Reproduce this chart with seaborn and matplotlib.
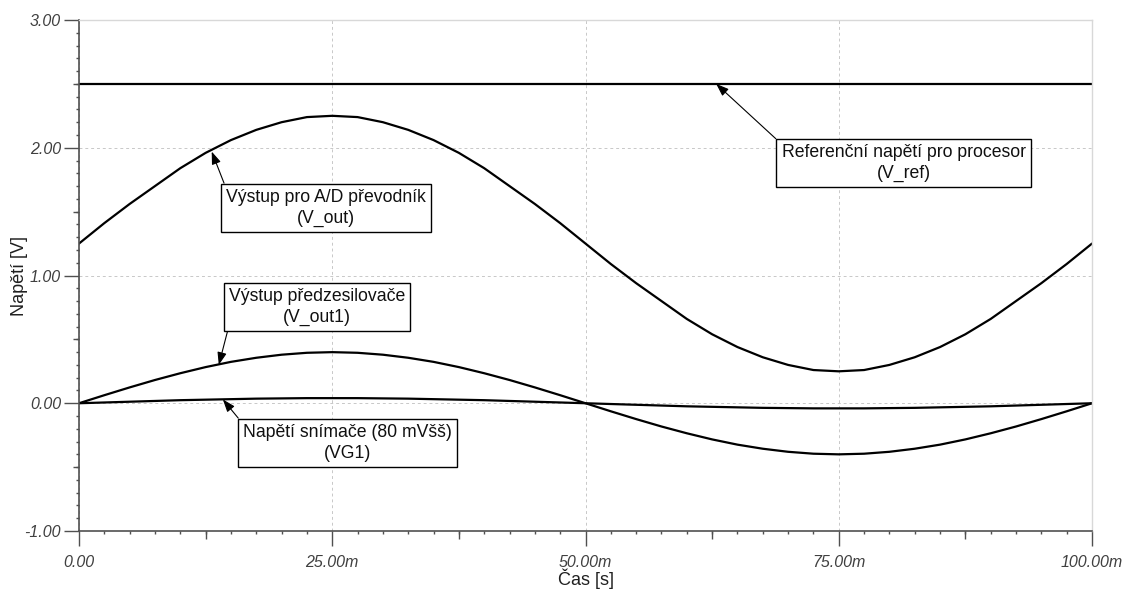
import numpy as np
import pandas as pd
import matplotlib
matplotlib.use('Agg')
import matplotlib.pyplot as plt
import seaborn as sns
from matplotlib.ticker import MultipleLocator, FuncFormatter

cas_ms = [0.0, 2.5, 5.0, 7.5, 10.0, 12.5, 15.0, 17.5, 20.0, 22.5,
          25.0, 27.5, 30.0, 32.5, 35.0, 37.5, 40.0, 42.5, 45.0, 47.5,
          50.0, 52.5, 55.0, 57.5, 60.0, 62.5, 65.0, 67.5, 70.0, 72.5,
          75.0, 77.5, 80.0, 82.5, 85.0, 87.5, 90.0, 92.5, 95.0, 97.5, 100.0]

v_ref = [2.50] * 41

v_out = [1.25, 1.41, 1.56, 1.70, 1.84, 1.96, 2.06, 2.14, 2.20, 2.24,
         2.25, 2.24, 2.20, 2.14, 2.06, 1.96, 1.84, 1.70, 1.56, 1.41,
         1.25, 1.09, 0.94, 0.80, 0.66, 0.54, 0.44, 0.36, 0.30, 0.26,
         0.25, 0.26, 0.30, 0.36, 0.44, 0.54, 0.66, 0.80, 0.94, 1.09, 1.25]

v_out1 = [0.00, 0.063, 0.124, 0.182, 0.235, 0.283, 0.324, 0.356, 0.380, 0.395,
          0.40, 0.395, 0.380, 0.356, 0.324, 0.283, 0.235, 0.182, 0.124, 0.063,
          0.00, -0.063, -0.124, -0.182, -0.235, -0.283, -0.324, -0.356, -0.380, -0.395,
          -0.40, -0.395, -0.380, -0.356, -0.324, -0.283, -0.235, -0.182, -0.124, -0.063, 0.00]

vg1 = [0.000, 0.006, 0.012, 0.018, 0.024, 0.028, 0.032, 0.036, 0.038, 0.040,
       0.040, 0.040, 0.038, 0.036, 0.032, 0.028, 0.024, 0.018, 0.012, 0.006,
       0.000, -0.006, -0.012, -0.018, -0.024, -0.028, -0.032, -0.036, -0.038, -0.040,
       -0.040, -0.040, -0.038, -0.036, -0.032, -0.028, -0.024, -0.018, -0.012, -0.006, 0.000]

# annotation texts, arrow tips (ms, V) and box centres (ms, V)
popisky = ['Referenční napětí pro procesor\n(V_ref)',
           'Výstup pro A/D převodník\n(V_out)',
           'Výstup předzesilovače\n(V_out1)',
           'Napětí snímače (80 mVšš)\n(VG1)']
hroty = [(62.9, 2.50), (13.1, 1.97), (13.8, 0.30), (14.2, 0.03)]
boxy = [(81.4, 1.88), (24.4, 1.53), (23.5, 0.755), (26.5, -0.31)]
kotvy = [(0, 1), (0, 1), (0, 0), (0, 1)]


def main():
    sns.set_style('white')
    plt.rcParams['font.family'] = ['Liberation Sans', 'DejaVu Sans']

    df = pd.DataFrame({'t': cas_ms, 'V_ref': v_ref, 'V_out': v_out,
                       'V_out1': v_out1, 'VG1': vg1})

    fig = plt.figure(figsize=(11.46, 5.97), dpi=100)
    ax = fig.add_axes([79 / 1146, 66 / 597, 1013 / 1146, 511 / 597])

    for col in ['V_ref', 'V_out', 'V_out1', 'VG1']:
        sns.lineplot(data=df, x='t', y=col, ax=ax, color='black', linewidth=1.6)

    ax.set_xlim(0, 100)
    ax.set_ylim(-1, 3)

    # grid only at major ticks
    ax.xaxis.set_major_locator(MultipleLocator(25))
    ax.xaxis.set_minor_locator(MultipleLocator(2.5))
    ax.yaxis.set_major_locator(MultipleLocator(1))
    ax.yaxis.set_minor_locator(MultipleLocator(0.1))
    ax.grid(True, which='major', color='#c8c8c8', linestyle=(0, (3, 3)), linewidth=0.7)

    ax.xaxis.set_major_formatter(FuncFormatter(lambda v, p: '0.00' if v == 0 else f'{v:.2f}m'))
    ax.yaxis.set_major_formatter(FuncFormatter(lambda v, p: f'{v:.2f}'))

    ax.tick_params(which='major', direction='out', length=11, width=1, color='#505050',
                   labelsize=11.5, labelcolor='#404040', bottom=True, left=True)
    ax.tick_params(which='minor', direction='out', length=2.5, width=1, color='#505050',
                   bottom=True, left=True)
    for lab in ax.get_xticklabels() + ax.get_yticklabels():
        lab.set_fontstyle('italic')
    ax.tick_params(axis='x', which='major', pad=6)
    ax.tick_params(axis='y', which='major', pad=2)

    # medium ticks (12.5 ms, 0.5 V)
    sec_x = ax.secondary_xaxis('bottom')
    sec_x.set_xticks([12.5, 37.5, 62.5, 87.5])
    sec_x.tick_params(length=5.5, width=1, color='#505050', labelbottom=False)
    sec_x.spines['bottom'].set_visible(False)
    sec_y = ax.secondary_yaxis('left')
    sec_y.set_yticks([-0.5, 0.5, 1.5, 2.5])
    sec_y.tick_params(length=4.5, width=1, color='#505050', labelleft=False)
    sec_y.spines['left'].set_visible(False)

    for s in ['left', 'bottom']:
        ax.spines[s].set_color('#505050')
        ax.spines[s].set_linewidth(1.2)
    for s in ['top', 'right']:
        ax.spines[s].set_color('#d8d8d8')
        ax.spines[s].set_linewidth(1.0)

    ax.set_xlabel('Čas [s]', fontsize=13, color='#202020')
    ax.set_ylabel('Napětí [V]', fontsize=13, color='#202020')
    ax.xaxis.set_label_coords(0.5, -0.074)
    ax.yaxis.set_label_coords(-0.050, 0.5)

    for txt, hrot, box, kotva in zip(popisky, hroty, boxy, kotvy):
        ax.annotate(txt, xy=hrot, xytext=box, ha='center', va='center',
                    fontsize=12.7, color='#101010', linespacing=1.3,
                    bbox=dict(boxstyle='square,pad=0.3', fc='white', ec='black', lw=1.0),
                    arrowprops=dict(arrowstyle='-|>,head_length=0.6,head_width=0.22',
                                    color='black', lw=0.8, relpos=kotva,
                                    shrinkA=0, shrinkB=0))

    fig.savefig('out.png', dpi=100)
    plt.close(fig)


if __name__ == '__main__':
    main()
